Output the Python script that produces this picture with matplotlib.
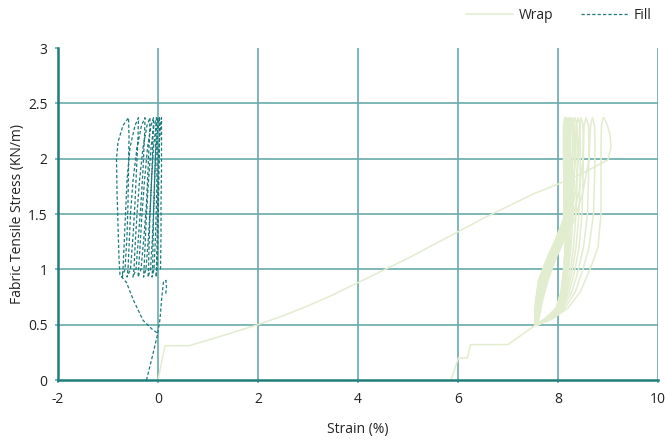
import numpy as np
import matplotlib
matplotlib.use("Agg")
import matplotlib.pyplot as plt

plt.rcParams['font.family'] = ['Open Sans', 'DejaVu Sans']

# ---------------- data ----------------
x_ticks = [-2, 0, 2, 4, 6, 8, 10]
y_ticks = [0, 0.5, 1, 1.5, 2, 2.5, 3]
x_tick_labels = ['-2', '0', '2', '4', '6', '8', '10']
y_tick_labels = ['0', '0.5', '1', '1.5', '2', '2.5', '3']

# Wrap: first loading curve
wrap_load0_x = [0.0, 0.14, 0.62, 1.0, 1.5, 2.0, 2.5, 3.0, 3.5, 4.0, 4.5, 5.0, 5.5, 6.0,
                6.5, 7.0, 7.5, 8.0, 8.5, 9.0, 9.06, 9.04, 8.98, 8.92]
wrap_load0_y = [0.0, 0.31, 0.31, 0.36, 0.43, 0.5, 0.58, 0.67, 0.77, 0.88, 0.99, 1.1, 1.22, 1.34,
                1.46, 1.57, 1.68, 1.77, 1.87, 1.99, 2.1, 2.22, 2.31, 2.37]

# Wrap unloading branches (x at stress levels wrap_unload_y)
wrap_unload_y = [2.37, 2.3, 2.1, 1.8, 1.5, 1.2, 1.0, 0.8, 0.65, 0.55, 0.5]
wrap_unload_x = [
    [8.90, 8.87, 8.86, 8.86, 8.86, 8.80, 8.64, 8.45, 8.20, 7.88, 7.60],
    [8.69, 8.73, 8.74, 8.73, 8.71, 8.62, 8.50, 8.35, 8.14, 7.85, 7.60],
    [8.56, 8.61, 8.62, 8.61, 8.59, 8.51, 8.41, 8.28, 8.10, 7.83, 7.59],
    [8.46, 8.50, 8.51, 8.50, 8.48, 8.42, 8.34, 8.23, 8.07, 7.81, 7.59],
    [8.40, 8.44, 8.45, 8.44, 8.42, 8.36, 8.29, 8.19, 8.05, 7.80, 7.58],
    [8.34, 8.38, 8.39, 8.38, 8.36, 8.31, 8.25, 8.16, 8.03, 7.79, 7.58],
    [8.29, 8.32, 8.33, 8.32, 8.30, 8.26, 8.21, 8.13, 8.01, 7.78, 7.57],
    [8.25, 8.28, 8.29, 8.28, 8.26, 8.23, 8.18, 8.11, 8.00, 7.77, 7.57],
    [8.21, 8.24, 8.25, 8.24, 8.22, 8.20, 8.15, 8.09, 7.98, 7.76, 7.56],
    [8.17, 8.20, 8.21, 8.20, 8.19, 8.17, 8.13, 8.07, 7.97, 7.75, 7.56],
    [8.15, 8.18, 8.19, 8.18, 8.17, 8.15, 8.11, 8.06, 7.96, 7.74, 7.55],
]

# Wrap reloading branches (x at stress levels wrap_reload_y)
wrap_reload_y = [0.5, 0.7, 0.9, 1.08, 1.26, 1.45, 1.7, 2.0, 2.3]
wrap_reload_x = [
    [7.60, 7.68, 7.80, 7.94, 8.12, 8.33, 8.50, 8.62, 8.65],
    [7.59, 7.66, 7.77, 7.91, 8.09, 8.28, 8.42, 8.50, 8.52],
    [7.58, 7.64, 7.75, 7.89, 8.06, 8.24, 8.35, 8.41, 8.43],
    [7.57, 7.62, 7.73, 7.87, 8.04, 8.21, 8.30, 8.35, 8.36],
    [7.56, 7.60, 7.71, 7.84, 8.02, 8.19, 8.26, 8.29, 8.30],
    [7.56, 7.59, 7.69, 7.82, 8.00, 8.17, 8.22, 8.24, 8.25],
    [7.55, 7.58, 7.67, 7.80, 7.98, 8.15, 8.19, 8.20, 8.21],
    [7.55, 7.57, 7.65, 7.79, 7.97, 8.14, 8.16, 8.16, 8.17],
    [7.54, 7.56, 7.63, 7.78, 7.96, 8.13, 8.14, 8.13, 8.14],
    [7.54, 7.55, 7.62, 7.77, 7.95, 8.12, 8.13, 8.12, 8.12],
    [7.54, 7.55, 7.61, 7.76, 7.94, 8.11, 8.12, 8.11, 8.11],
]

# Wrap final unloading to residual strain
wrap_final_x = [8.13, 8.16, 8.17, 8.16, 8.15, 8.14, 8.12, 8.10, 8.08, 7.56, 7.0, 6.25, 6.19, 6.01, 5.86]
wrap_final_y = [2.37, 2.3, 2.1, 1.8, 1.5, 1.2, 1.0, 0.8, 0.66, 0.5, 0.32, 0.32, 0.2, 0.2, 0.0]

# Fill: initial part
fill_start_x = [-0.23, -0.12, -0.01, 0.04, 0.07, 0.11, 0.16, 0.17, 0.15]
fill_start_y = [0.0, 0.2, 0.41, 0.55, 0.72, 0.89, 0.9, 0.83, 0.77]

# Fill loops: loading legs (x at fill_up_y) and unloading legs (x at fill_dn_y)
fill_up_y = [1.0, 1.3, 1.6, 1.9, 2.2, 2.37]
fill_up_x = [
    [0.05, 0.06, 0.06, 0.07, 0.07, 0.07],
    [-0.02, 0.00, 0.01, 0.02, 0.03, 0.03],
    [-0.08, -0.05, -0.03, -0.02, -0.01, 0.00],
    [-0.15, -0.11, -0.08, -0.06, -0.04, -0.03],
    [-0.24, -0.19, -0.15, -0.12, -0.10, -0.09],
    [-0.34, -0.28, -0.23, -0.20, -0.17, -0.16],
    [-0.44, -0.39, -0.34, -0.30, -0.27, -0.26],
    [-0.55, -0.50, -0.46, -0.43, -0.40, -0.39],
    [-0.66, -0.62, -0.60, -0.59, -0.58, -0.59],
]
fill_dn_y = [2.3, 2.1, 1.8, 1.5, 1.2, 1.0, 0.93]
fill_dn_x = [
    [0.05, 0.02, 0.00, -0.01, -0.02, -0.03, -0.04],
    [0.00, -0.04, -0.07, -0.09, -0.10, -0.11, -0.12],
    [-0.04, -0.09, -0.13, -0.16, -0.18, -0.19, -0.20],
    [-0.08, -0.14, -0.19, -0.23, -0.26, -0.28, -0.29],
    [-0.14, -0.21, -0.27, -0.32, -0.36, -0.39, -0.40],
    [-0.22, -0.30, -0.37, -0.42, -0.46, -0.48, -0.50],
    [-0.33, -0.42, -0.50, -0.55, -0.58, -0.60, -0.62],
    [-0.46, -0.56, -0.62, -0.65, -0.68, -0.70, -0.72],
]
# Fill final (outermost) unloading
fill_final_x = [-0.70, -0.80, -0.83, -0.82, -0.80, -0.78, -0.76, -0.63, -0.49, -0.30, -0.12, 0.0]
fill_final_y = [2.3, 2.15, 2.0, 1.7, 1.4, 1.1, 0.95, 0.88, 0.72, 0.54, 0.46, 0.42]

# ---------------- assemble series ----------------
wx = list(wrap_load0_x)
wy = list(wrap_load0_y)
for i in range(len(wrap_unload_x)):
    wx += wrap_unload_x[i]
    wy += wrap_unload_y
    wx += wrap_reload_x[i]
    wy += wrap_reload_y
wx += wrap_final_x
wy += wrap_final_y

fx = list(fill_start_x) + [np.nan]
fy = list(fill_start_y) + [np.nan]
for i in range(len(fill_up_x)):
    fx += fill_up_x[i]
    fy += fill_up_y
    if i < len(fill_dn_x):
        fx += fill_dn_x[i]
        fy += fill_dn_y
fx += fill_final_x
fy += fill_final_y

# ---------------- styling ----------------
wrap_color = '#e2ecce'
fill_color = '#1e7a7c'
grid_color = '#68abab'
spine_color = '#1f7d7e'
text_color = '#222222'

fig = plt.figure(figsize=(6.66, 4.40), dpi=100)
ax = fig.add_axes([58 / 666, 60 / 440, 600 / 666, 332 / 440])

ax.plot(wx, wy, color=wrap_color, lw=1.1, label='Wrap', zorder=2)
ax.plot(fx, fy, color=fill_color, lw=0.9, dashes=(2.6, 1.7), label='Fill', zorder=3)

ax.set_xlim(-2, 10)
ax.set_ylim(0, 3)
ax.set_xticks(x_ticks)
ax.set_xticklabels(x_tick_labels)
ax.set_yticks(y_ticks)
ax.set_yticklabels(y_tick_labels)

ax.grid(True, color=grid_color, lw=1.2, zorder=1)
ax.set_axisbelow(True)
ax.yaxis.get_gridlines()[-1].set_visible(False)
ax.yaxis.get_gridlines()[0].set_visible(False)
ax.xaxis.get_gridlines()[0].set_visible(False)

ax.tick_params(axis='both', length=2.5, width=1.2, color=grid_color,
               labelsize=10, labelcolor=text_color)
ax.tick_params(axis='x', pad=6)
ax.tick_params(axis='y', pad=5)

for s in ['top', 'right']:
    ax.spines[s].set_visible(False)
for s in ['left', 'bottom']:
    ax.spines[s].set_color(spine_color)
    ax.spines[s].set_linewidth(1.8)

ax.set_xlabel('Strain (%)', fontsize=10, color=text_color, labelpad=11)
ax.set_ylabel('Fabric Tensile Stress (KN/m)', fontsize=10, color=text_color, labelpad=2)

fig.legend(loc='upper right', bbox_to_anchor=(0.997, 1.01), ncol=2, frameon=False,
           fontsize=10, handlelength=3.4, columnspacing=2.0, handletextpad=0.4,
           labelcolor=text_color)

fig.savefig('out.png', dpi=100)
